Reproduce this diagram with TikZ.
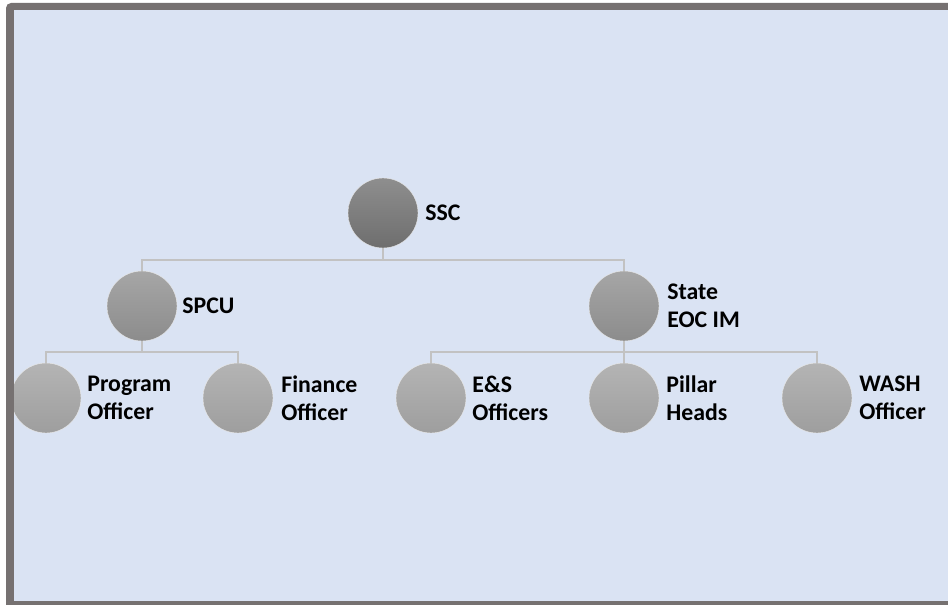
\documentclass[tikz,border=0pt]{standalone}
\usepackage{fontspec}
\setmainfont{Carlito}
\begin{document}
\begin{tikzpicture}[x=1bp,y=-1bp,
  lbl/.style={anchor=west, inner sep=0pt, align=left,
    font=\bfseries\fontsize{23.8bp}{28bp}\selectfont, text=black},
  orb/.style={circle, minimum size=70bp, inner sep=0pt, draw=white!85!gray, line width=0.4bp},
  orbtop/.style={orb, top color=orbA1, bottom color=orbA2},
  orbmid/.style={orb, top color=orbB1, bottom color=orbB2},
  orbleaf/.style={orb, top color=orbC1, bottom color=orbC2},
  link/.style={draw=linkgray, line width=1.6bp}]
\definecolor{framegray}{HTML}{767171}
\definecolor{bgblue}{HTML}{DAE3F3}
\definecolor{linkgray}{HTML}{C2C2C2}
\definecolor{orbA1}{HTML}{8E8E8E}
\definecolor{orbA2}{HTML}{6E6E6E}
\definecolor{orbB1}{HTML}{A6A6A6}
\definecolor{orbB2}{HTML}{8C8C8C}
\definecolor{orbC1}{HTML}{B4B4B4}
\definecolor{orbC2}{HTML}{9E9E9E}
\useasboundingbox (0,0) rectangle (948,605);
\fill[white] (0,0) rectangle (948,605);
% frame: left, top and bottom bands with a rounded top-left corner
\fill[framegray] (6,608) -- (6,8) arc[start angle=180, end angle=270, radius=5]
  -- (956,3) -- (956,10) -- (14,10) -- (14,601) -- (956,601) -- (956,608) -- cycle;
% panel
\fill[bgblue] (14,10) rectangle (956,601);
\begin{scope}
\clip (14,10) rectangle (956,601);
% top level
\node[orbtop] (ssc) at (383,213) {};
% second level
\node[orbmid] (spcu) at (142,306) {};
\node[orbmid] (state) at (624,306) {};
% third level
\node[orbleaf] (prog) at (46,398) {};
\node[orbleaf] (fin) at (238,398) {};
\node[orbleaf] (es) at (431,398) {};
\node[orbleaf] (pil) at (624,398) {};
\node[orbleaf] (wash) at (817,398) {};
% connectors
\draw[link] (ssc.south) -- ++(0,12) -| (spcu.north);
\draw[link] (ssc.south) -- ++(0,12) -| (state.north);
\draw[link] (spcu.south) -- ++(0,11) -| (prog.north);
\draw[link] (spcu.south) -- ++(0,11) -| (fin.north);
\draw[link] (state.south) -- ++(0,11) -| (es.north);
\draw[link] (state.south) -- (pil.north);
\draw[link] (state.south) -- ++(0,11) -| (wash.north);
% labels
\node[lbl] (tssc) at ([xshift=7bp]ssc.east) {SSC};
\node[lbl] (tspcu) at ([xshift=5bp]spcu.east) {SPCU};
\node[lbl] (tstate) at ([xshift=8bp]state.east) {State\\EOC IM};
\node[lbl] (tprog) at ([xshift=6bp]prog.east) {Program\\Officer};
\node[lbl] (tfin) at ([xshift=8bp]fin.east) {Finance\\Officer};
\node[lbl] (tes) at ([xshift=6bp]es.east) {E\&S\\Officers};
\node[lbl] (tpil) at ([xshift=7bp]pil.east) {Pillar\\Heads};
\node[lbl] (twash) at ([xshift=7bp]wash.east) {WASH\\Officer};
\end{scope}
\end{tikzpicture}
\end{document}
